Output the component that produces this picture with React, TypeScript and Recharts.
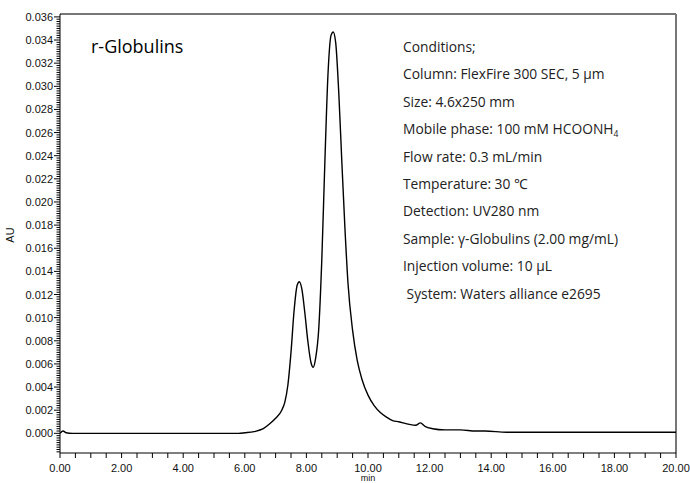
import React from 'react';
import { LineChart, Line, XAxis, YAxis, ReferenceLine } from 'recharts';

const timeMin = [0.0, 0.1, 0.2, 0.4, 1.0, 2.0, 3.0, 4.0, 5.0, 5.8, 6.0, 6.3, 6.6, 6.8, 7.0, 7.2, 7.3, 7.4, 7.5, 7.6, 7.7, 7.77, 7.85, 7.95, 8.05, 8.15, 8.22, 8.3, 8.4, 8.5, 8.6, 8.7, 8.8, 8.87, 8.95, 9.05, 9.15, 9.25, 9.35, 9.5, 9.65, 9.8, 10.0, 10.2, 10.4, 10.6, 10.8, 11.0, 11.3, 11.55, 11.7, 11.85, 12.1, 12.5, 13.0, 13.5, 13.8, 14.5, 16.0, 18.0, 20.0];
const absorbance = [0.0, 0.0002, 0.00005, 0.0, 0.0, 0.0, 0.0, 0.0, 0.0, 0.0, 0.00005, 0.00015, 0.0004, 0.0008, 0.0013, 0.002, 0.0027, 0.0042, 0.007, 0.0106, 0.0128, 0.0131, 0.0125, 0.0104, 0.0079, 0.0061, 0.0057, 0.0065, 0.009, 0.015, 0.0235, 0.031, 0.0344, 0.0347, 0.0338, 0.0295, 0.0235, 0.0178, 0.013, 0.0089, 0.0063, 0.0047, 0.0033, 0.0024, 0.0018, 0.0014, 0.0011, 0.001, 0.0008, 0.0007, 0.0009, 0.0006, 0.0004, 0.0003, 0.0003, 0.0002, 0.0002, 0.0001, 0.0001, 0.0001, 0.0001];

const xMajorTicks = [0, 2, 4, 6, 8, 10, 12, 14, 16, 18, 20];
const yMajorTicks = [0, 0.002, 0.004, 0.006, 0.008, 0.01, 0.012, 0.014, 0.016, 0.018, 0.02, 0.022, 0.024, 0.026, 0.028, 0.03, 0.032, 0.034, 0.036];

const title = 'r-Globulins';
const conditions = [
  'Conditions;',
  'Column: FlexFire 300 SEC, 5 µm',
  'Size: 4.6x250 mm',
  'Mobile phase: 100 mM HCOONH',
  'Flow rate: 0.3 mL/min',
  'Temperature: 30 ℃',
  'Detection: UV280 nm',
  'Sample: γ-Globulins (2.00 mg/mL)',
  'Injection volume: 10 µL',
  ' System: Waters alliance e2695',
];

const data = timeMin.map((t, i) => ({ t, au: absorbance[i] }));

const X_MIN = 0;
const X_MAX = 20;
const Y_MIN = -0.0017;
const Y_MAX = 0.03625;

const xTicks: number[] = [];
for (let i = 0; i <= 40; i++) xTicks.push(Math.round(i * 0.5 * 100) / 100);
const yTicks: number[] = [];
for (let i = -8; i <= 180; i++) yTicks.push(Math.round(i * 0.0002 * 1e6) / 1e6);

const isMajorX = (v: number) => xMajorTicks.some((m) => Math.abs(m - v) < 1e-9);
const isMajorY = (v: number) => yMajorTicks.some((m) => Math.abs(m - v) < 1e-9);

const tickFont = '"Liberation Sans", Arial, sans-serif';

const XTick = (props: any) => {
  const { x, y, payload } = props;
  const v = payload.value;
  const major = isMajorX(v);
  return (
    <g>
      <line x1={x} x2={x} y1={y} y2={y + 5} stroke="#000" strokeWidth={1} />
      {major && (
        <text x={x} y={y + 19} textAnchor="middle" fontSize={11} fontFamily={tickFont} fill="#111">
          {v.toFixed(2)}
        </text>
      )}
    </g>
  );
};

const YTick = (props: any) => {
  const { x, y, payload } = props;
  const v = payload.value;
  const major = isMajorY(v);
  return (
    <g>
      <line x1={x - (major ? 6 : 3.5)} x2={x} y1={y} y2={y} stroke="#000" strokeWidth={1} />
      {major && (
        <text x={x - 7} y={y + 4} textAnchor="end" fontSize={11} fontFamily={tickFont} fill="#111">
          {v.toFixed(3)}
        </text>
      )}
    </g>
  );
};

const textFont = '"Open Sans", "Noto Sans", sans-serif';

export default function App() {
  return (
    <div style={{ position: 'absolute', left: 0, top: 0, width: 690, height: 483, background: '#fff' }}>
      <LineChart width={690} height={483} data={data} margin={{ top: 14, right: 14, left: 0, bottom: 0 }}>
        <XAxis
          dataKey="t"
          type="number"
          domain={[X_MIN, X_MAX]}
          ticks={xTicks}
          interval={0}
          tickLine={false}
          tickSize={0}
          tickMargin={0}
          tick={<XTick />}
          axisLine={{ stroke: '#000', strokeWidth: 1 }}
          height={30}
          allowDataOverflow
        />
        <YAxis
          type="number"
          domain={[Y_MIN, Y_MAX]}
          ticks={yTicks}
          interval={0}
          tickLine={false}
          tickSize={0}
          tickMargin={0}
          tick={<YTick />}
          axisLine={{ stroke: '#000', strokeWidth: 1 }}
          width={60}
          allowDataOverflow
        />
        <ReferenceLine y={Y_MAX} stroke="#777" strokeWidth={2} ifOverflow="extendDomain" />
        <ReferenceLine x={X_MAX} stroke="#777" strokeWidth={2} ifOverflow="extendDomain" />
        <Line
          type="monotone"
          dataKey="au"
          stroke="#000"
          strokeWidth={1.4}
          dot={false}
          activeDot={false}
          isAnimationActive={false}
        />
      </LineChart>
      <div style={{ position: 'absolute', left: 0, top: 0, width: 690, height: 483, pointerEvents: 'none' }}>
        <svg width={690} height={483}>
          <text x={14} y={235} transform="rotate(-90 14 235)" textAnchor="middle" fontSize={11} fontFamily={tickFont} fill="#111">
            AU
          </text>
          <text x={368} y={481} textAnchor="middle" fontSize={9} fontFamily={tickFont} fill="#111">
            min
          </text>
          <text x={91} y={53} fontSize={18} fontWeight={500} fontFamily={textFont} fill="#000">
            {title}
          </text>
          {conditions.map((c, i) => (
            <text key={i} x={403} y={52 + i * 27.4} fontSize={13.8} fontFamily={textFont} fill="#222" style={{ whiteSpace: 'pre' }}>
              {c}
              {i === 3 && (
                <tspan fontSize={8.5} dy={3}>
                  4
                </tspan>
              )}
            </text>
          ))}
        </svg>
      </div>
    </div>
  );
}
